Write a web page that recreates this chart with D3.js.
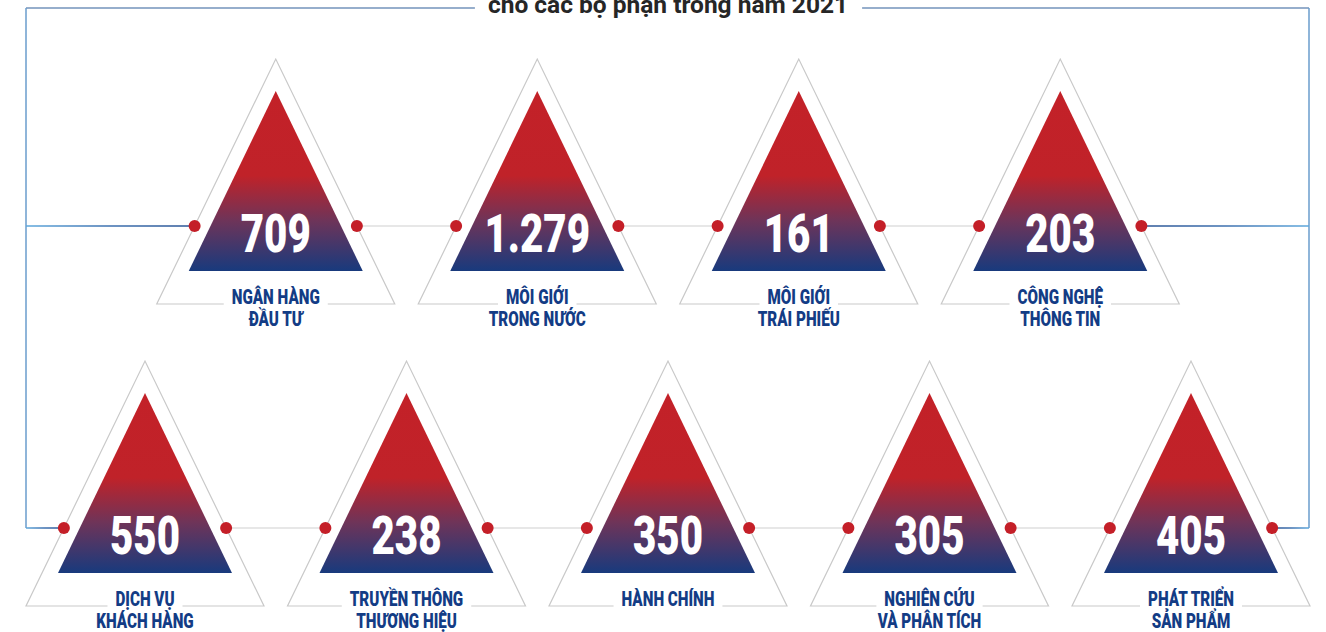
<!DOCTYPE html>
<html lang="vi">
<head>
<meta charset="utf-8">
<script src="https://cdn.jsdelivr.net/npm/d3@7"></script>
<style>
  html, body { margin: 0; padding: 0; background: #fff; }
  svg { display: block; }
</style>
</head>
<body>
<svg id="chart" width="1326" height="632"></svg>
<script>
// Headcount per department, year 2021
const titleText = "cho các bộ phận trong năm 2021";

const topDepartments = [["NGÂN HÀNG", "ĐẦU TƯ"], ["MÔI GIỚI", "TRONG NƯỚC"], ["MÔI GIỚI", "TRÁI PHIẾU"], ["CÔNG NGHỆ", "THÔNG TIN"]];
const topValues = [709, 1279, 161, 203];

const bottomDepartments = [["DỊCH VỤ", "KHÁCH HÀNG"], ["TRUYỀN THÔNG", "THƯƠNG HIỆU"], ["HÀNH CHÍNH"], ["NGHIÊN CỨU", "VÀ PHÂN TÍCH"], ["PHÁT TRIỂN", "SẢN PHẨM"]];
const bottomValues = [550, 238, 350, 305, 405];

const svg = d3.select("#chart");

const vi = d3.formatLocale({ decimal: ",", thousands: ".", grouping: [3], currency: ["", " đ"] });
const fmt = vi.format(",d");

// Build the nine items: bottom row takes even slots, top row odd slots
const items = [];
bottomValues.forEach((v, i) => items.push({ row: "bottom", slot: i * 2, value: v, label: bottomDepartments[i] }));
topValues.forEach((v, i) => items.push({ row: "top", slot: i * 2 + 1, value: v, label: topDepartments[i] }));

const x = d3.scaleLinear().domain([0, 8]).range([145, 1191]);
// dot (centre line) height of each row
const rowY = d3.scaleOrdinal().domain(["top", "bottom"]).range([226, 528]);

// geometry relative to the row's centre line
const outerTop = -167, outerBase = 78, outerHalf = 119;
const innerTop = -135, innerBase = 45, innerHalf = 87;
const dotFrac = (0 - outerTop) / (outerBase - outerTop);
const dotDx = outerHalf * dotFrac;

const defs = svg.append("defs");
const grad = defs.append("linearGradient").attr("id", "triFill")
  .attr("x1", 0).attr("y1", 0).attr("x2", 0).attr("y2", 1);
grad.append("stop").attr("offset", "0").attr("stop-color", "#c32128");
grad.append("stop").attr("offset", "0.47").attr("stop-color", "#c02229");
grad.append("stop").attr("offset", "0.72").attr("stop-color", "#6e3459");
grad.append("stop").attr("offset", "1").attr("stop-color", "#183a7d");

function branchGrad(id, x1, x2) {
  const g = defs.append("linearGradient").attr("id", id).attr("gradientUnits", "userSpaceOnUse")
    .attr("x1", x1).attr("y1", 0).attr("x2", x2).attr("y2", 0);
  g.append("stop").attr("offset", "0").attr("stop-color", "#5ea8dc");
  g.append("stop").attr("offset", "0.5").attr("stop-color", "#3c6fae");
  g.append("stop").attr("offset", "1").attr("stop-color", "#2a5494");
}

// ---- frame ----
const frameL = 26, frameR = 1309, frameTop = 8;
const frame = svg.append("g").attr("fill", "none").attr("stroke-width", 1.5);

const titleG = svg.append("text")
  .attr("x", 668).attr("y", 13)
  .attr("text-anchor", "middle")
  .attr("font-family", "Roboto, 'Noto Sans', sans-serif")
  .attr("font-weight", 700).attr("font-size", 24.5)
  .attr("fill", "#262626")
  .text(titleText);
const tb = titleG.node().getBBox();

frame.append("line").attr("x1", frameL).attr("x2", tb.x - 13).attr("y1", frameTop).attr("y2", frameTop).attr("stroke", "#7393bb");
frame.append("line").attr("x1", tb.x + tb.width + 14).attr("x2", frameR).attr("y1", frameTop).attr("y2", frameTop).attr("stroke", "#7393bb");
frame.append("line").attr("x1", frameL).attr("x2", frameL).attr("y1", frameTop).attr("y2", rowY("bottom")).attr("stroke", "#6a9ccc");
frame.append("line").attr("x1", frameR).attr("x2", frameR).attr("y1", frameTop).attr("y2", rowY("bottom")).attr("stroke", "#6a9ccc");

const firstTop = x(1) - dotDx, lastTop = x(7) + dotDx;
const firstBot = x(0) - dotDx, lastBot = x(8) + dotDx;
branchGrad("brTL", frameL, firstTop);
branchGrad("brBL", frameL, firstBot);
branchGrad("brTR", frameR, lastTop);
branchGrad("brBR", frameR, lastBot);
frame.append("line").attr("x1", frameL).attr("x2", firstTop).attr("y1", rowY("top")).attr("y2", rowY("top")).attr("stroke", "url(#brTL)");
frame.append("line").attr("x1", frameL).attr("x2", firstBot).attr("y1", rowY("bottom")).attr("y2", rowY("bottom")).attr("stroke", "url(#brBL)");
frame.append("line").attr("x1", lastTop).attr("x2", frameR).attr("y1", rowY("top")).attr("y2", rowY("top")).attr("stroke", "url(#brTR)");
frame.append("line").attr("x1", lastBot).attr("x2", frameR).attr("y1", rowY("bottom")).attr("y2", rowY("bottom")).attr("stroke", "url(#brBR)");

// ---- grey connectors between neighbouring triangles in a row ----
["top", "bottom"].forEach(row => {
  const slots = items.filter(d => d.row === row).map(d => d.slot).sort((a, b) => a - b);
  for (let i = 0; i < slots.length - 1; i++) {
    svg.append("line")
      .attr("x1", x(slots[i]) + dotDx).attr("x2", x(slots[i + 1]) - dotDx)
      .attr("y1", rowY(row)).attr("y2", rowY(row))
      .attr("stroke", "#cfcfcf").attr("stroke-width", 1.2);
  }
});

// ---- triangles ----
const g = svg.selectAll("g.item").data(items).join("g")
  .attr("class", "item")
  .attr("transform", d => `translate(${x(d.slot)},${rowY(d.row)})`);

g.append("path")
  .attr("d", `M${-innerHalf},${innerBase}L0,${innerTop}L${innerHalf},${innerBase}Z`)
  .attr("fill", "url(#triFill)");

g.append("text")
  .attr("text-anchor", "middle")
  .attr("transform", "translate(0,26) scale(0.76,1)")
  .attr("font-family", "Roboto, 'Noto Sans', sans-serif")
  .attr("font-weight", 900).attr("font-size", 53)
  .attr("fill", "#fff")
  .text(d => fmt(d.value));

// department label
const labScale = 0.78;
const lab = g.append("text")
  .attr("text-anchor", "middle")
  .attr("transform", `translate(0,${outerBase}) scale(${labScale},1)`)
  .attr("font-family", "Roboto, 'Noto Sans', sans-serif")
  .attr("font-weight", 900).attr("font-size", 19.5)
  .attr("fill", "#133c85");
lab.selectAll("tspan").data(d => d.label).join("tspan")
  .attr("x", 0).attr("y", (t, i) => -0.5 + i * 22.5)
  .text(t => t);

// outer outline with a gap under the label
g.each(function (d) {
  const node = d3.select(this);
  const first = node.select("text:last-of-type tspan").node();
  const half = first.getComputedTextLength() * labScale / 2 + 8;
  node.insert("path", ":first-child")
    .attr("d", `M${-half},${outerBase}L${-outerHalf},${outerBase}L0,${outerTop}L${outerHalf},${outerBase}L${half},${outerBase}`)
    .attr("fill", "none").attr("stroke", "#c9c9c9").attr("stroke-width", 1.2);
});

// red connector dots on the outline
g.selectAll("circle").data([-1, 1]).join("circle")
  .attr("cx", s => s * dotDx).attr("cy", 0).attr("r", 6)
  .attr("fill", "#c41f28");
</script>
</body>
</html>
